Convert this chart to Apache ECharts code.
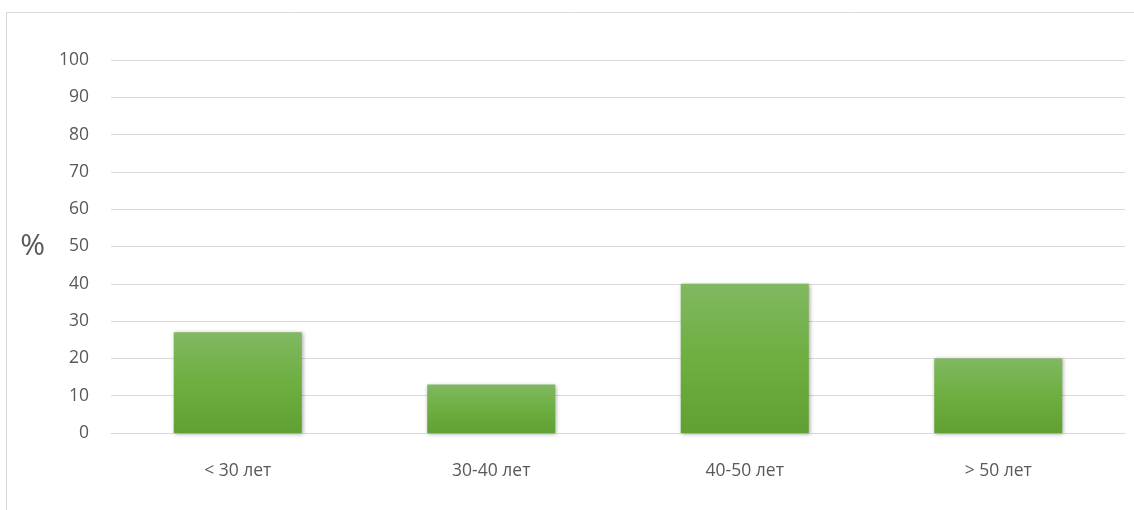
<!DOCTYPE html>
<html>
<head>
<meta charset="utf-8">
<script src="https://cdn.jsdelivr.net/npm/echarts@6/dist/echarts.min.js"></script>
<style>
  html, body { margin: 0; padding: 0; background: #fff; }
  #main { width: 1134px; height: 510px; }
</style>
</head>
<body>
<div id="main"></div>
<script>
// данные диаграммы
var categories = ['< 30 лет', '30-40 лет', '40-50 лет', '> 50 лет'];
var values = [27, 13, 40, 20];
var yTicks = [0, 100, 10]; // min, max, interval

var chart = echarts.init(document.getElementById('main'));
chart.setOption({
  animation: false,
  textStyle: { fontFamily: 'Open Sans, Noto Sans, sans-serif' },
  graphic: [{
    type: 'rect',
    shape: { x: 6.5, y: 12.5, width: 1200, height: 600 },
    style: { fill: 'none', stroke: '#d9d9d9', lineWidth: 1 },
    silent: true
  }],
  grid: { left: 111, right: 9, top: 60, bottom: 77 },
  xAxis: {
    type: 'category',
    data: categories,
    axisLine: { lineStyle: { color: '#d9d9d9', width: 1 } },
    axisTick: { show: false },
    axisLabel: { color: '#595959', fontSize: 17.5, margin: 29 }
  },
  yAxis: {
    type: 'value',
    min: yTicks[0],
    max: yTicks[1],
    interval: yTicks[2],
    name: '%',
    nameLocation: 'middle',
    nameRotate: 0,
    nameGap: 66,
    nameTextStyle: { color: '#595959', fontSize: 30, padding: [8, 0, 0, 0] },
    axisLine: { show: false },
    axisTick: { show: false },
    axisLabel: { color: '#595959', fontSize: 17.5, margin: 22 },
    splitLine: { lineStyle: { color: '#d9d9d9', width: 1 } }
  },
  series: [{
    type: 'bar',
    data: values,
    barWidth: '50.5%',
    itemStyle: {
      color: new echarts.graphic.LinearGradient(0, 0, 0, 1, [
        { offset: 0, color: '#81b861' },
        { offset: 0.5, color: '#6daf40' },
        { offset: 1, color: '#61a034' }
      ]),
      shadowBlur: 4,
      shadowColor: 'rgba(0,0,0,0.35)',
      shadowOffsetX: 1,
      shadowOffsetY: 1
    }
  }]
});
</script>
</body>
</html>
